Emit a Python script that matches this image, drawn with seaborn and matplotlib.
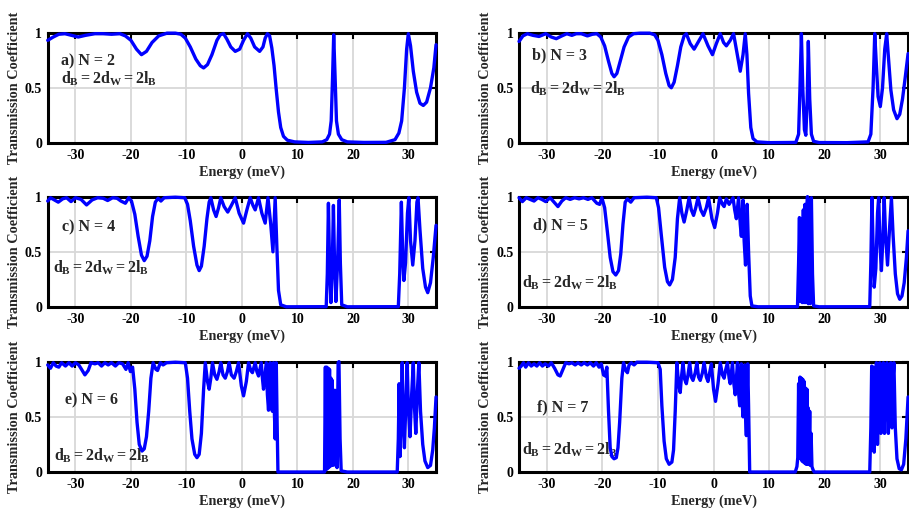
import matplotlib
matplotlib.use("Agg")
import matplotlib.pyplot as plt
import pandas as pd
import seaborn as sns

# Transmission coefficient T(E) for superlattices with N barriers, (energy meV, T)
curve_n2 = [(-35, 0.93), (-34, 0.96), (-33, 0.985), (-31.9, 0.99), (-30.7, 0.975), (-29.5, 0.96),
            (-28.2, 0.975), (-26.5, 0.99), (-25, 0.99), (-23.5, 0.985), (-22, 0.99), (-21, 0.97),
            (-20, 0.93), (-19, 0.85), (-18.1, 0.80), (-17.2, 0.83), (-16.2, 0.91), (-15, 0.97),
            (-13.5, 0.995), (-12, 0.995), (-11, 0.985), (-10.2, 0.95), (-9.3, 0.87), (-8.3, 0.76),
            (-7.5, 0.70), (-6.9, 0.68), (-6.2, 0.71), (-5.4, 0.80), (-4.5, 0.93), (-3.9, 0.98),
            (-3.3, 0.99), (-2.7, 0.94), (-2.0, 0.87), (-1.2, 0.83), (-0.4, 0.85), (0.3, 0.93),
            (1.0, 0.99), (1.6, 0.95), (2.3, 0.87), (3.2, 0.83), (3.8, 0.87), (4.2, 0.95),
            (4.6, 0.99), (5.0, 0.97), (5.4, 0.86), (5.8, 0.70), (6.2, 0.48), (6.6, 0.28),
            (7.0, 0.14), (7.5, 0.06), (8.2, 0.025), (9.5, 0.01), (12, 0.005), (14.5, 0.01),
            (15.3, 0.03), (15.8, 0.08), (16.1, 0.2), (16.35, 0.6), (16.55, 0.98), (16.8, 0.6),
            (17.05, 0.2), (17.4, 0.08), (18.0, 0.03), (19, 0.01), (22, 0.005), (26, 0.006),
            (27.6, 0.03), (28.3, 0.09), (28.8, 0.2), (29.3, 0.5), (29.7, 0.85), (30.0, 0.99),
            (30.4, 0.88), (30.9, 0.65), (31.5, 0.46), (32.1, 0.36), (32.7, 0.34), (33.3, 0.37),
            (34.0, 0.50), (34.6, 0.68), (35, 0.89)]

curve_n3 = [(-35, 0.92), (-34.3, 0.97), (-33.5, 0.99), (-32.5, 0.975), (-31.4, 0.965), (-30.2, 0.99),
            (-29.2, 0.96), (-28.3, 0.945), (-27.3, 0.97), (-26.4, 0.99), (-25.5, 0.975), (-24.7, 0.99),
            (-23.8, 0.99), (-22.7, 0.97), (-21.8, 0.985), (-21.0, 0.99), (-20.3, 0.96), (-19.6, 0.88),
            (-18.9, 0.74), (-18.3, 0.63), (-17.9, 0.60), (-17.4, 0.63), (-16.8, 0.74), (-16.1, 0.87),
            (-15.3, 0.96), (-14.4, 0.99), (-13.2, 0.995), (-11.5, 0.995), (-10.6, 0.98), (-10.0, 0.93),
            (-9.3, 0.80), (-8.6, 0.63), (-8.0, 0.52), (-7.6, 0.50), (-7.1, 0.55), (-6.5, 0.70),
            (-5.9, 0.87), (-5.3, 0.97), (-4.9, 0.99), (-4.2, 0.90), (-3.5, 0.85), (-2.7, 0.92),
            (-1.9, 0.99), (-1.0, 0.88), (-0.2, 0.80), (0.5, 0.90), (1.2, 0.99), (1.8, 0.91),
            (2.3, 0.88), (3.0, 0.93), (3.6, 0.99), (4.2, 0.82), (4.8, 0.65), (5.3, 0.80),
            (5.7, 0.99), (6.0, 0.80), (6.3, 0.45), (6.7, 0.14), (7.1, 0.04), (7.8, 0.01),
            (10, 0.003), (14.8, 0.005), (15.3, 0.08), (15.55, 0.5), (15.8, 0.99), (16.05, 0.5),
            (16.35, 0.12), (16.6, 0.07), (16.85, 0.4), (17.05, 0.92), (17.3, 0.4), (17.6, 0.08),
            (18.0, 0.015), (19, 0.004), (24, 0.003), (27.8, 0.01), (28.3, 0.08), (28.7, 0.5),
            (29.0, 0.99), (29.3, 0.7), (29.6, 0.42), (30.0, 0.33), (30.4, 0.5), (30.8, 0.85),
            (31.15, 0.99), (31.5, 0.75), (31.9, 0.48), (32.4, 0.30), (33.0, 0.22), (33.5, 0.26),
            (34.0, 0.40), (34.5, 0.60), (35, 0.81)]

curve_n4 = [(-35, 0.96), (-34.5, 0.99), (-33.8, 0.97), (-33.1, 0.95), (-32.3, 0.98), (-31.6, 0.99),
            (-30.8, 0.955), (-30.0, 0.99), (-29.0, 0.975), (-28.0, 0.925), (-27.0, 0.97), (-26.0, 0.99),
            (-25.0, 0.985), (-24.2, 0.965), (-23.3, 0.99), (-22.5, 0.985), (-21.8, 0.96), (-21.0, 0.94),
            (-20.4, 0.99), (-19.9, 0.96), (-19.3, 0.84), (-18.7, 0.64), (-18.1, 0.47), (-17.6, 0.42),
            (-17.1, 0.46), (-16.6, 0.60), (-16.1, 0.82), (-15.6, 0.95), (-15.1, 0.985), (-14.6, 0.96),
            (-14.0, 0.99), (-12, 0.995), (-10.3, 0.99), (-9.8, 0.93), (-9.3, 0.78), (-8.7, 0.55),
            (-8.1, 0.38), (-7.7, 0.33), (-7.3, 0.37), (-6.8, 0.55), (-6.3, 0.80), (-5.9, 0.95),
            (-5.6, 0.99), (-5.1, 0.88), (-4.65, 0.82), (-4.2, 0.90), (-3.8, 0.99), (-3.2, 0.91),
            (-2.55, 0.86), (-1.9, 0.92), (-1.2, 0.99), (-0.5, 0.85), (0.3, 0.76), (0.9, 0.88),
            (1.5, 0.99), (2.0, 0.92), (2.4, 0.88), (3.0, 0.99), (3.6, 0.85), (4.2, 0.76),
            (4.7, 0.99), (5.2, 0.75), (5.6, 0.50), (6.0, 0.99), (6.3, 0.55), (6.6, 0.15),
            (7.0, 0.02), (8, 0.002), (15.2, 0.003), (15.4, 0.3), (15.6, 0.94), (15.8, 0.4),
            (16.05, 0.04), (16.3, 0.4), (16.5, 0.92), (16.7, 0.4), (16.95, 0.05), (17.25, 0.4),
            (17.55, 0.97), (17.75, 0.4), (18.0, 0.02), (19, 0.002), (28.2, 0.003), (28.45, 0.3),
            (28.75, 0.95), (29.0, 0.45), (29.2, 0.24), (29.5, 0.4), (29.85, 0.85), (30.1, 0.99),
            (30.4, 0.6), (30.8, 0.38), (31.2, 0.6), (31.55, 0.95), (31.75, 0.99), (32.1, 0.7),
            (32.6, 0.35), (33.1, 0.18), (33.5, 0.13), (34.0, 0.22), (34.5, 0.45), (35, 0.74)]

curve_n5 = [(-35, 0.99), (-34.4, 0.955), (-33.7, 0.99), (-33.0, 0.975), (-32.3, 0.96), (-31.6, 0.99),
            (-30.9, 0.975), (-30.2, 0.955), (-29.4, 0.99), (-28.7, 0.95), (-28.0, 0.91), (-27.3, 0.96),
            (-26.6, 0.99), (-25.8, 0.975), (-25.0, 0.99), (-24.2, 0.98), (-23.4, 0.99), (-22.6, 0.975),
            (-21.9, 0.99), (-21.0, 0.94), (-20.5, 0.93), (-20.1, 0.99), (-19.6, 0.90), (-19.1, 0.68),
            (-18.6, 0.45), (-18.1, 0.32), (-17.6, 0.29), (-17.1, 0.33), (-16.7, 0.48), (-16.3, 0.75),
            (-15.9, 0.95), (-15.5, 0.98), (-14.9, 0.95), (-14.3, 0.99), (-12, 0.995), (-10.3, 0.99),
            (-9.9, 0.90), (-9.4, 0.65), (-8.8, 0.36), (-8.3, 0.23), (-7.9, 0.20), (-7.4, 0.25),
            (-6.9, 0.45), (-6.5, 0.80), (-6.1, 0.99), (-5.7, 0.85), (-5.3, 0.77), (-4.85, 0.87),
            (-4.4, 0.99), (-4.0, 0.88), (-3.6, 0.83), (-3.2, 0.90), (-2.8, 0.99), (-2.3, 0.88),
            (-1.8, 0.83), (-1.3, 0.90), (-0.9, 0.99), (-0.3, 0.80), (0.2, 0.72), (0.7, 0.85),
            (1.1, 0.99), (1.6, 0.93), (1.9, 0.91), (2.3, 0.98), (2.8, 0.93), (3.5, 0.99),
            (3.8, 0.88), (4.1, 0.80), (4.5, 0.99), (4.8, 0.75), (5.0, 0.64), (5.3, 0.97),
            (5.5, 0.6), (5.75, 0.38), (6.05, 0.93), (6.3, 0.5), (6.6, 0.1), (6.9, 0.01),
            (8, 0.002), (15.1, 0.003), (15.3, 0.4), (15.45, 0.81), (15.6, 0.05), (15.8, 0.80),
            (15.95, 0.04), (16.15, 0.88), (16.3, 0.04), (16.45, 0.93), (16.6, 0.04), (16.75, 0.85),
            (16.9, 1.0), (17.05, 0.03), (17.25, 0.97), (17.4, 0.03), (17.6, 0.99), (17.8, 0.3),
            (18.0, 0.01), (19, 0.002), (28.1, 0.003), (28.3, 0.4), (28.5, 0.99), (28.75, 0.45),
            (28.9, 0.18), (29.2, 0.35), (29.5, 0.85), (29.7, 0.99), (29.95, 0.55), (30.2, 0.33),
            (30.45, 0.6), (30.7, 0.99), (30.95, 0.65), (31.3, 0.38), (31.65, 0.7), (32.0, 0.99),
            (32.3, 0.65), (32.7, 0.30), (33.1, 0.12), (33.5, 0.07), (33.9, 0.10), (34.3, 0.22),
            (34.7, 0.45), (35, 0.69)]

curve_n6 = [(-35, 0.97), (-34.5, 0.94), (-34.0, 0.99), (-33.5, 0.96), (-33.0, 0.95), (-32.5, 0.99),
            (-31.8, 0.96), (-31.2, 0.99), (-30.6, 0.96), (-30.0, 0.99), (-29.4, 0.97), (-28.9, 0.93),
            (-28.3, 0.88), (-27.7, 0.92), (-27.2, 0.99), (-26.5, 0.98), (-25.9, 0.99), (-25.3, 0.96),
            (-24.7, 0.99), (-24.1, 0.97), (-23.5, 0.99), (-22.8, 0.96), (-22.2, 0.99), (-21.5, 0.98),
            (-20.9, 0.93), (-20.5, 0.99), (-20.1, 0.91), (-19.7, 0.95), (-19.3, 0.75), (-18.9, 0.45),
            (-18.5, 0.25), (-18.0, 0.19), (-17.6, 0.21), (-17.2, 0.32), (-16.8, 0.55), (-16.4, 0.85),
            (-16.0, 0.99), (-15.5, 0.93), (-15.2, 0.92), (-14.7, 0.99), (-14.2, 0.97), (-13.6, 0.99),
            (-12, 0.995), (-10.2, 0.99), (-9.8, 0.85), (-9.4, 0.55), (-9.0, 0.30), (-8.5, 0.16),
            (-8.1, 0.13), (-7.7, 0.16), (-7.3, 0.35), (-6.9, 0.75), (-6.6, 0.99), (-6.2, 0.82),
            (-5.9, 0.75), (-5.6, 0.85), (-5.3, 0.99), (-4.9, 0.88), (-4.5, 0.84), (-4.1, 0.91),
            (-3.8, 0.99), (-3.4, 0.88), (-3.0, 0.85), (-2.6, 0.91), (-2.3, 0.99), (-1.9, 0.88),
            (-1.4, 0.85), (-1.0, 0.91), (-0.6, 0.99), (-0.1, 0.78), (0.3, 0.69), (0.8, 0.82),
            (1.2, 0.99), (1.6, 0.92), (1.9, 0.90), (2.4, 0.99), (2.7, 0.91), (3.0, 0.87),
            (3.5, 0.99), (3.7, 0.85), (3.9, 0.75), (4.4, 0.99), (4.6, 0.7), (4.8, 0.56),
            (5.1, 0.99), (5.3, 0.6), (5.5, 0.55), (5.7, 0.99), (5.85, 0.55), (6.0, 0.30),
            (6.2, 0.99), (6.35, 0.45), (6.5, 0.0), (8, 0.0), (14.9, 0.0), (15.05, 0.95),
            (15.15, 0.02), (15.3, 0.95), (15.4, 0.03), (15.55, 0.94), (15.65, 0.04), (15.8, 0.93),
            (15.9, 0.05), (16.05, 0.85), (16.15, 0.06), (16.3, 0.83), (16.4, 0.06), (16.55, 0.74),
            (16.65, 0.07), (16.8, 0.74), (16.9, 0.06), (17.05, 0.55), (17.15, 0.04), (17.35, 0.99),
            (17.5, 1.0), (17.7, 0.3), (17.9, 0.01), (19, 0.0), (28.0, 0.0), (28.2, 0.3),
            (28.35, 0.80), (28.5, 0.14), (28.7, 0.5), (28.9, 0.99), (29.1, 0.45), (29.3, 0.22),
            (29.55, 0.6), (29.8, 0.99), (30.0, 0.6), (30.3, 0.32), (30.6, 0.7), (30.9, 0.99),
            (31.1, 0.6), (31.35, 0.35), (31.65, 0.75), (31.9, 0.99), (32.2, 0.55), (32.6, 0.25),
            (33.0, 0.10), (33.5, 0.04), (34.0, 0.06), (34.4, 0.2), (34.7, 0.4), (35, 0.68)]

curve_n7 = [(-35, 0.94), (-34.6, 0.96), (-34.2, 0.99), (-33.8, 0.95), (-33.3, 0.99), (-32.8, 0.96),
            (-32.3, 0.98), (-31.8, 0.96), (-31.3, 0.99), (-30.8, 0.96), (-30.3, 0.98), (-29.7, 0.96),
            (-29.2, 0.99), (-28.6, 0.94), (-28.0, 0.88), (-27.6, 0.87), (-27.1, 0.93), (-26.6, 0.99),
            (-26.0, 0.98), (-25.5, 0.99), (-24.9, 0.97), (-24.4, 0.99), (-23.8, 0.97), (-23.3, 0.99),
            (-22.7, 0.97), (-22.2, 0.99), (-21.6, 0.96), (-21.1, 0.99), (-20.6, 0.95), (-20.2, 0.98),
            (-19.8, 0.88), (-19.5, 0.87), (-19.2, 0.95), (-18.9, 0.55), (-18.6, 0.22), (-18.3, 0.14),
            (-17.9, 0.12), (-17.5, 0.13), (-17.2, 0.22), (-16.9, 0.45), (-16.5, 0.85), (-16.2, 0.99),
            (-15.8, 0.92), (-15.5, 0.90), (-15.2, 0.97), (-14.8, 0.99), (-14.3, 0.97), (-13.8, 0.995),
            (-12, 0.995), (-10.0, 0.99), (-9.6, 0.93), (-9.3, 0.60), (-8.9, 0.28), (-8.5, 0.12),
            (-8.0, 0.07), (-7.5, 0.09), (-7.2, 0.20), (-6.9, 0.55), (-6.6, 0.99), (-6.3, 0.80),
            (-6.0, 0.72), (-5.8, 0.85), (-5.5, 0.99), (-5.2, 0.84), (-4.9, 0.80), (-4.6, 0.88),
            (-4.3, 0.99), (-4.0, 0.86), (-3.7, 0.83), (-3.3, 0.90), (-3.0, 0.99), (-2.7, 0.86),
            (-2.4, 0.83), (-2.0, 0.90), (-1.7, 0.99), (-1.3, 0.86), (-1.0, 0.82), (-0.7, 0.90),
            (-0.4, 0.98), (0.0, 0.75), (0.35, 0.64), (0.8, 0.80), (1.2, 0.99), (1.6, 0.88),
            (1.9, 0.85), (2.2, 0.93), (2.5, 0.99), (2.8, 0.85), (3.0, 0.80), (3.4, 0.99),
            (3.65, 0.80), (3.9, 0.70), (4.3, 0.99), (4.5, 0.72), (4.7, 0.60), (5.0, 0.98),
            (5.15, 0.62), (5.3, 0.50), (5.6, 0.97), (5.75, 0.5), (5.9, 0.33), (6.15, 0.98),
            (6.3, 0.6), (6.5, 0.0), (8, 0.0), (14.7, 0.0), (15.0, 0.05), (15.15, 0.13),
            (15.3, 0.80), (15.4, 0.14), (15.55, 0.86), (15.65, 0.12), (15.8, 0.85), (15.9, 0.10),
            (16.05, 0.84), (16.15, 0.09), (16.3, 0.82), (16.4, 0.08), (16.55, 0.76), (16.65, 0.07),
            (16.8, 0.75), (16.9, 0.07), (17.05, 0.58), (17.15, 0.07), (17.3, 0.55), (17.4, 0.06),
            (17.55, 0.35), (17.7, 0.05), (17.9, 0.02), (18.1, 0.0), (20, 0.0), (28.1, 0.0),
            (28.3, 0.4), (28.45, 0.96), (28.6, 0.2), (28.75, 0.95), (28.9, 0.18), (29.1, 0.6),
            (29.3, 0.99), (29.5, 0.25), (29.7, 0.8), (29.9, 0.99), (30.1, 0.35), (30.35, 0.85),
            (30.55, 0.99), (30.75, 0.35), (31.0, 0.85), (31.2, 0.99), (31.45, 0.35), (31.7, 0.80),
            (31.9, 0.99), (32.1, 0.4), (32.3, 0.85), (32.45, 0.99), (32.7, 0.4), (33.0, 0.12),
            (33.4, 0.03), (33.8, 0.02), (34.2, 0.07), (34.6, 0.3), (35, 0.68)]

panel_tags = ["a) N = 2", "b) N = 3", "c) N = 4", "d) N = 5", "e) N = 6", "f) N = 7"]
geometry_label = r"$d_B = 2d_W = 2l_B$"
x_ticks = [-30, -20, -10, 0, 10, 20, 30]
y_ticks = [0, 0.5, 1]
y_tick_labels = ["0", "0.5", "1"]

sns.set_theme(style="white")
plt.rcParams["font.family"] = ["Liberation Serif", "DejaVu Serif"]
plt.rcParams["font.weight"] = "bold"
plt.rcParams["axes.labelweight"] = "bold"
plt.rcParams["axes.unicode_minus"] = False
plt.rcParams["mathtext.fontset"] = "custom"
plt.rcParams["mathtext.rm"] = "Liberation Serif:bold"
plt.rcParams["mathtext.it"] = "Liberation Serif:bold"
plt.rcParams["mathtext.bf"] = "Liberation Serif:bold"

fig = plt.figure(figsize=(9.09, 5.11), dpi=100)

col_left = [0.0525, 0.571]
col_width = [0.4272, 0.428]
row_bottom = [0.7202, 0.3992, 0.0763]
row_height = 0.216

curves = [curve_n2, curve_n3, curve_n4, curve_n5, curve_n6, curve_n7]
# (x, baseline y) for the panel tag and the geometry label
tag_pos = [(-32.6, 0.705), (-32.7, 0.76), (-32.5, 0.686), (-32.4, 0.70), (-31.9, 0.61), (-31.8, 0.55)]
geo_pos = [(-32.6, 0.54), (-33.1, 0.445), (-34.0, 0.31), (-34.5, 0.18), (-33.8, 0.10), (-34.5, 0.158)]

for i, curve in enumerate(curves):
    r, c = divmod(i, 2)
    ax = fig.add_axes([col_left[c], row_bottom[r], col_width[c], row_height])
    df = pd.DataFrame(curve, columns=["Energy", "T"])
    sns.lineplot(data=df, x="Energy", y="T", ax=ax, color="#0000ff", linewidth=2.4,
                 estimator=None, sort=False, zorder=4, clip_on=False)
    ax.set_xlim(-35, 35)
    ax.set_ylim(0, 1)
    ax.set_xticks(x_ticks)
    ax.set_yticks(y_ticks)
    ax.set_yticklabels(y_tick_labels)
    ax.grid(True, color="#d8d8d8", linewidth=1.3)
    ax.set_axisbelow(True)
    ax.tick_params(direction="in", length=4, width=1.5, top=True, right=True,
                   labelsize=10, pad=4, colors="black")
    for lab in ax.get_xticklabels() + ax.get_yticklabels():
        lab.set_fontweight("bold")
    for sp in ax.spines.values():
        sp.set_visible(True)
        sp.set_color("black")
        sp.set_linewidth(2.2)
        sp.set_zorder(3)
    ax.set_xlabel("Energy (meV)", fontsize=10.3, fontweight="bold", labelpad=3)
    ax.set_ylabel("Transmission Coefficient", fontsize=10.3, fontweight="bold", labelpad=3)
    tx, ty = tag_pos[i]
    ax.text(tx, ty, panel_tags[i], fontsize=11.5, fontweight="bold", ha="left", va="baseline")
    gx, gy = geo_pos[i]
    ax.text(gx, gy, geometry_label, fontsize=11.5, ha="left", va="baseline")

fig.savefig("out.png", dpi=100)
